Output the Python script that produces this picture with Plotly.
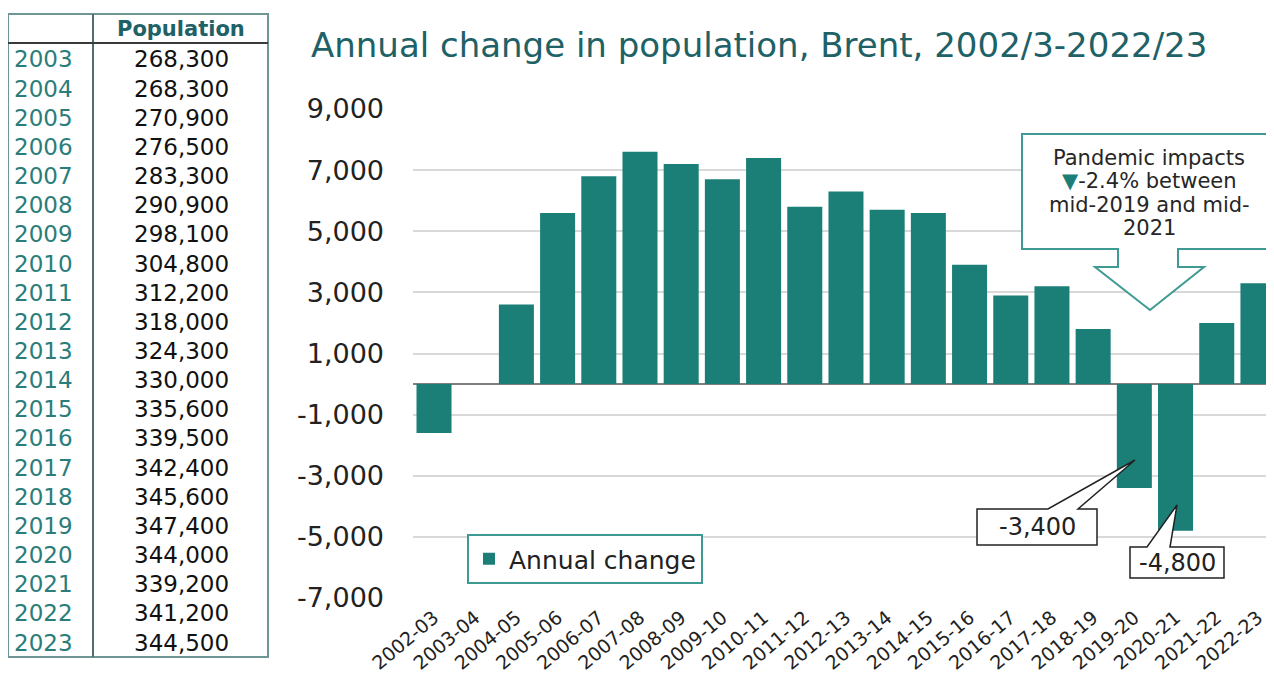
import plotly.graph_objects as go

W, H = 1274, 678
OFF = 8  # page body margin

# ---------------- data ----------------
categories = ["2002-03", "2003-04", "2004-05", "2005-06", "2006-07", "2007-08", "2008-09",
              "2009-10", "2010-11", "2011-12", "2012-13", "2013-14", "2014-15", "2015-16",
              "2016-17", "2017-18", "2018-19", "2019-20", "2020-21", "2021-22", "2022-23"]
annual_change = [-1600, 0, 2600, 5600, 6800, 7600, 7200, 6700, 7400, 5800, 6300, 5700,
                 5600, 3900, 2900, 3200, 1800, -3400, -4800, 2000, 3300]

table_years = ["2003", "2004", "2005", "2006", "2007", "2008", "2009", "2010", "2011", "2012",
               "2013", "2014", "2015", "2016", "2017", "2018", "2019", "2020", "2021", "2022", "2023"]
table_population = [268300, 268300, 270900, 276500, 283300, 290900, 298100, 304800, 312200,
                    318000, 324300, 330000, 335600, 339500, 342400, 345600, 347400, 344000,
                    339200, 341200, 344500]
table_header = "Population"

y_ticks = [9000, 7000, 5000, 3000, 1000, -1000, -3000, -5000, -7000]
y_tick_text = ["9,000", "7,000", "5,000", "3,000", "1,000", "-1,000", "-3,000", "-5,000", "-7,000"]

title_text = "Annual change in population, Brent, 2002/3-2022/23"
legend_name = "Annual change"
callout_lines = ["Pandemic impacts",
                 "<span style='color:#1b7f78'>\u25BC</span>-2.4% between",
                 "mid-2019 and mid-",
                 "2021"]
labelled_values = [-3400, -4800]

# ---------------- styles ----------------
FONT = "DejaVu Sans"
TEAL = "#1b7f78"
TITLE_TEAL = "#1e6166"
YEAR_TEAL = "#2a7d7a"
BORDER = "#6d9694"
TXT = "#222222"


def px(x):
    return (x - OFF) / W


def py(y):
    return 1 - (y - OFF) / H


def path(points):
    return "M " + " L ".join(f"{px(x):.5f},{py(y):.5f}" for x, y in points) + " Z"


fig = go.Figure()

fig.add_trace(go.Bar(
    x=categories, y=annual_change, name=legend_name,
    marker=dict(color=TEAL, line=dict(width=0)),
    showlegend=True,
))

shapes = []
annotations = []

# ---- table (left) ----
shapes.append(dict(type="rect", xref="paper", yref="paper", x0=px(8), x1=px(268), y0=py(14), y1=py(657),
                   line=dict(color=BORDER, width=2), fillcolor="rgba(0,0,0,0)"))
shapes.append(dict(type="line", xref="paper", yref="paper", x0=px(93), x1=px(93), y0=py(14), y1=py(657),
                   line=dict(color="#4f6f6e", width=2)))
shapes.append(dict(type="line", xref="paper", yref="paper", x0=px(8), x1=px(268), y0=py(43), y1=py(43),
                   line=dict(color="#3a3a3a", width=2)))
annotations.append(dict(text=f"<b>{table_header}</b>", x=px(181), y=py(29), xref="paper", yref="paper",
                        xanchor="center", yanchor="middle", showarrow=False,
                        font=dict(family=FONT, size=21, color=TITLE_TEAL)))
row0, row_h = 59.5, 29.15
for i, (yr, pop) in enumerate(zip(table_years, table_population)):
    yc = row0 + row_h * i
    annotations.append(dict(text=yr, x=px(12), y=py(yc), xref="paper", yref="paper",
                            xanchor="left", yanchor="middle", showarrow=False,
                            font=dict(family=FONT, size=23, color=YEAR_TEAL)))
    annotations.append(dict(text=f"{pop:,}", x=px(181), y=py(yc), xref="paper", yref="paper",
                            xanchor="center", yanchor="middle", showarrow=False,
                            font=dict(family=FONT, size=23, color="#111111")))

# ---- title ----
annotations.append(dict(text=title_text, x=px(309), y=py(45), xref="paper", yref="paper", xanchor="left",
                        yanchor="middle", showarrow=False, font=dict(family=FONT, size=34, color=TITLE_TEAL)))

# ---- pandemic callout (box with down arrow) ----
shapes.append(dict(type="path", xref="paper", yref="paper",
                   path=path([(1022, 134), (1300, 134), (1300, 249), (1178, 249), (1178, 267),
                              (1204, 267), (1150, 310), (1095, 267), (1118, 267), (1118, 249),
                              (1022, 249)]),
                   fillcolor="white", line=dict(color="#3f9a94", width=2), layer="above"))
for i, line in enumerate(callout_lines):
    annotations.append(dict(text=line, x=px(1149), y=py(158 + 23.3 * i), xref="paper", yref="paper",
                            xanchor="center", yanchor="middle", showarrow=False,
                            font=dict(family=FONT, size=21, color="#262626")))

# ---- value label callouts ----
shapes.append(dict(type="path", xref="paper", yref="paper",
                   path=path([(977, 509), (1048, 509), (1135, 460), (1078, 509), (1097, 509),
                              (1097, 545), (977, 545)]),
                   fillcolor="white", line=dict(color=TXT, width=1.5), layer="above"))
shapes.append(dict(type="path", xref="paper", yref="paper",
                   path=path([(1130, 547), (1147, 547), (1177, 505), (1170, 547), (1224, 547),
                              (1224, 578), (1130, 578)]),
                   fillcolor="white", line=dict(color=TXT, width=1.5), layer="above"))
annotations.append(dict(text=f"{labelled_values[0]:,}", x=px(1037), y=py(527), xref="paper", yref="paper",
                        xanchor="center", yanchor="middle", showarrow=False,
                        font=dict(family=FONT, size=24, color=TXT)))
annotations.append(dict(text=f"{labelled_values[1]:,}", x=px(1177), y=py(563), xref="paper", yref="paper",
                        xanchor="center", yanchor="middle", showarrow=False,
                        font=dict(family=FONT, size=24, color=TXT)))

fig.update_layout(
    width=W, height=H,
    margin=dict(l=0, r=0, t=0, b=0, autoexpand=False),
    paper_bgcolor="white", plot_bgcolor="white",
    font=dict(family=FONT, color=TXT),
    bargap=0.15,
    showlegend=True,
    legend=dict(x=px(467), y=py(534), xanchor="left", yanchor="top",
                bordercolor="#3f9a94", borderwidth=2, bgcolor="white",
                font=dict(family=FONT, size=25, color=TXT)),
    xaxis=dict(domain=[px(413), px(1274)], range=[-0.51, 20.39], type="category",
               showgrid=False, showline=False, ticks="", tickangle=-40, automargin=False,
               ticklabelstandoff=4,
               tickfont=dict(family=FONT, size=19, color=TXT)),
    yaxis=dict(domain=[py(598), py(109)], range=[-7000, 9000], automargin=False,
               tickvals=y_ticks, ticktext=y_tick_text,
               showgrid=True, gridcolor="#d9d9d9", gridwidth=1.5,
               zeroline=True, zerolinecolor="#7f7f7f", zerolinewidth=1.5,
               showline=False, ticks="", ticklabelstandoff=28,
               tickfont=dict(family=FONT, size=27, color=TXT)),
    shapes=shapes,
    annotations=annotations,
)

fig.write_html("out.html")
